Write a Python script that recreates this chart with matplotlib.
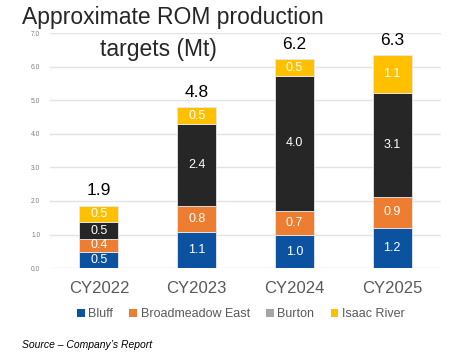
import matplotlib.pyplot as plt
from matplotlib.patches import Patch
import numpy as np

plt.rcParams['font.family'] = ['Liberation Sans', 'DejaVu Sans']

years = ["CY2022", "CY2023", "CY2024", "CY2025"]
bluff = [0.49, 1.08, 0.98, 1.20]
broadmeadow = [0.37, 0.78, 0.73, 0.92]
burton = [0.50, 2.42, 4.01, 3.10]
isaac = [0.50, 0.52, 0.50, 1.12]

series = ["Bluff", "Broadmeadow East", "Burton", "Isaac River"]
bar_colors = ["#0B52A0", "#ED7D31", "#262626", "#FFC000"]
legend_colors = ["#0B52A0", "#ED7D31", "#A5A5A5", "#FFC000"]

fig = plt.figure(figsize=(4.51, 3.56), dpi=100)
ax = fig.add_axes([0.111, 0.247, 0.867, 0.660])

x = np.arange(len(years))
bottom = np.zeros(len(years))
for vals, col in zip([bluff, broadmeadow, burton, isaac], bar_colors):
    vals = np.array(vals)
    ax.bar(x, vals, 0.4, bottom=bottom, color=col, edgecolor="#E8E8E8", linewidth=0.6, zorder=3)
    for xi, b, v in zip(x, bottom, vals):
        ax.text(xi, b + v / 2, f"{v:.1f}", ha="center", va="center", color="white", fontsize=9, zorder=4)
    bottom += vals

# totals above bars
for xi, t in zip(x, bottom):
    ax.text(xi, t + 0.22, f"{t:.1f}", ha="center", va="bottom", fontsize=12.5, color="black")

ax.set_xlim(-0.5, 3.5)
ax.set_ylim(0, 7)
ax.set_yticks(np.arange(0, 7.5, 1.0))
ax.set_yticklabels([f"{v:.1f}" for v in np.arange(0, 7.5, 1.0)])
ax.set_xticks(x)
ax.set_xticklabels(years)
ax.tick_params(axis="y", length=0, labelsize=4.8, labelcolor="#7F7F7F", pad=7)
ax.tick_params(axis="x", length=0, labelsize=12, labelcolor="#595959", pad=9)
ax.grid(axis="y", color="#E3E3E3", linewidth=1, zorder=0)
for s in ax.spines.values():
    s.set_visible(False)

# title in two lines, second one sits over the top gridline
fig.text(0.049, 0.983, "Approximate ROM production", fontsize=16.5, color="#262626", va="top", ha="left")
fig.text(0.222, 0.893, "targets (Mt)", fontsize=16.5, color="#262626", va="top", ha="left",
         bbox=dict(facecolor="white", edgecolor="none", pad=2))

handles = [Patch(facecolor=c, label=l) for c, l in zip(legend_colors, series)]
fig.legend(handles=handles, loc="center", bbox_to_anchor=(0.534, 0.118), ncol=4, frameon=False,
           fontsize=9, handlelength=0.6, handleheight=0.6, handletextpad=0.3, columnspacing=1.3,
           labelcolor="#595959")

fig.text(0.049, 0.031, "Source \u2013 Company\u2019s Report", fontsize=7.5, style="italic", va="center", ha="left")

fig.savefig("out.png", dpi=100)
